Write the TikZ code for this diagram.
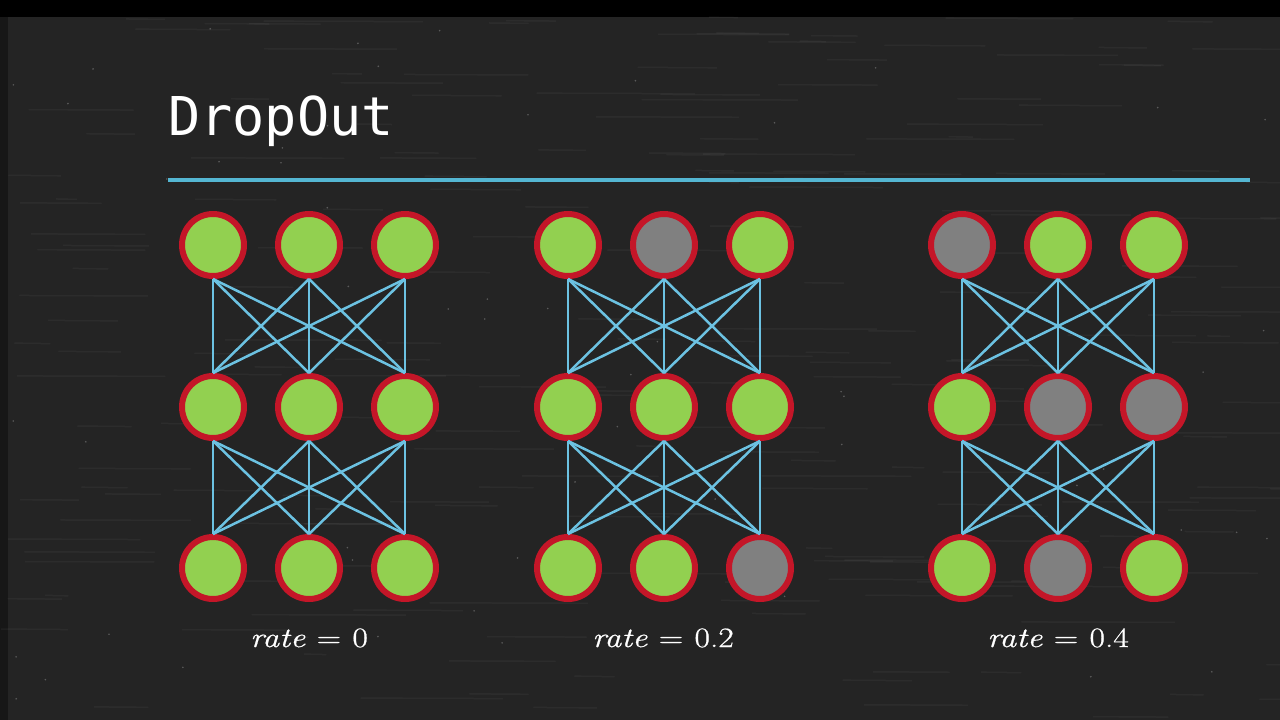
\documentclass[tikz,border=0pt]{standalone}
\usepackage{fontspec}
\newfontfamily\titlefont{DejaVu Sans Mono}
\newfontfamily\ratefont[FakeBold=0.7]{Latin Modern Roman}
\usepackage{graphicx}
\definecolor{board}{RGB}{36,36,36}
\definecolor{nodegreen}{RGB}{146,208,80}
\definecolor{nodegray}{RGB}{128,128,128}
\definecolor{nodered}{RGB}{196,22,40}
\definecolor{linkblue}{RGB}{108,194,226}
\definecolor{ruleblue}{RGB}{84,182,210}
\tikzset{
  neuron/.style={circle, minimum size=62pt, inner sep=0pt, line width=6pt, draw=nodered, fill=nodegreen},
  dropped/.style={neuron, fill=nodegray},
  link/.style={draw=linkblue, line width=2.5pt},
  ratelabel/.style={text=white, font=\ratefont\fontsize{28}{32}\selectfont, inner sep=0pt},
}
\newcommand{\ratetext}[1]{\scalebox{1.2}[1]{\textit{rate}\hspace{0.34em}=\hspace{0.34em}#1}}
\begin{document}
\begin{tikzpicture}[x=1pt,y=-1pt]
\useasboundingbox (0,0) rectangle (1280,720);
% board
\fill[board] (0,0) rectangle (1280,720);
\fill[black] (0,0) rectangle (1280,17);
\fill[black, opacity=0.35] (0,17) rectangle (8,720);
\pgfmathsetseed{11}
\foreach \i in {1,...,220}{
  \pgfmathsetmacro{\xa}{rnd*1280}
  \pgfmathsetmacro{\ya}{17+rnd*700}
  \pgfmathsetmacro{\ll}{20+rnd*140}
  \draw[white, opacity=0.04, line width=1.5pt] (\xa,\ya) -- ++(\ll,0.5);
}
\foreach \i in {1,...,60}{
  \pgfmathsetmacro{\xa}{rnd*1280}
  \pgfmathsetmacro{\ya}{17+rnd*700}
  \fill[white, opacity=0.25] (\xa,\ya) circle (0.9pt);
}
% title
\node[anchor=base west, text=white, inner sep=0pt, font=\titlefont\fontsize{53.5}{58}\selectfont] (title) at (168,135) {DropOut};
\coordinate (ruleL) at (168,180);
\coordinate (ruleR) at (1250,180);
\draw[ruleblue, line width=3.5pt] (ruleL) -- (ruleR);

% network 1 (rate 0)
\foreach \c/\x in {1/213,2/309,3/405}{
  \node[neuron] (a1\c) at (\x,245) {};
  \node[neuron] (b1\c) at (\x,407) {};
  \node[neuron] (c1\c) at (\x,568) {};
}
% network 2 (rate 0.2)
\node[neuron]  (a21) at (568,245) {};
\node[dropped] (a22) at (664,245) {};
\node[neuron]  (a23) at (760,245) {};
\node[neuron]  (b21) at (568,407) {};
\node[neuron]  (b22) at (664,407) {};
\node[neuron]  (b23) at (760,407) {};
\node[neuron]  (c21) at (568,568) {};
\node[neuron]  (c22) at (664,568) {};
\node[dropped] (c23) at (760,568) {};
% network 3 (rate 0.4)
\node[dropped] (a31) at (962,245) {};
\node[neuron]  (a32) at (1058,245) {};
\node[neuron]  (a33) at (1154,245) {};
\node[neuron]  (b31) at (962,407) {};
\node[dropped] (b32) at (1058,407) {};
\node[dropped] (b33) at (1154,407) {};
\node[neuron]  (c31) at (962,568) {};
\node[dropped] (c32) at (1058,568) {};
\node[neuron]  (c33) at (1154,568) {};

% connections
\foreach \n in {1,2,3}{
  \foreach \i in {1,2,3}{
    \foreach \j in {1,2,3}{
      \draw[link] (a\n\i.south) -- (b\n\j.north);
      \draw[link] (b\n\i.south) -- (c\n\j.north);
    }
  }
}

% labels
\node[ratelabel, anchor=base] (r1) at (309,647) {\ratetext{0}};
\node[ratelabel, anchor=base] (r2) at (663,647) {\ratetext{0.2}};
\node[ratelabel, anchor=base] (r3) at (1058,647) {\ratetext{0.4}};
\end{tikzpicture}
\end{document}
